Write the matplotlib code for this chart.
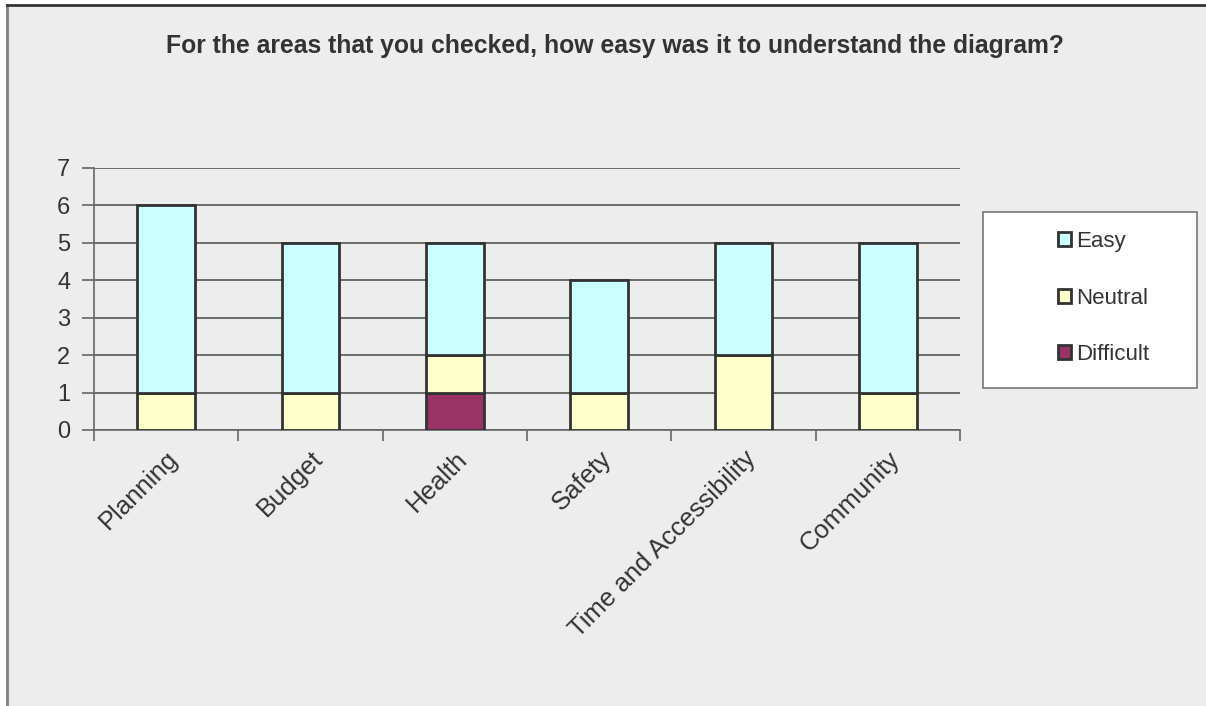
import matplotlib.pyplot as plt
import numpy as np
from matplotlib.patches import Rectangle
from matplotlib.lines import Line2D

# Daten
categories = ['Planning', 'Budget', 'Health', 'Safety', 'Time and Accessibility', 'Community']
difficult = [0, 0, 1, 0, 0, 0]
neutral = [1, 1, 1, 1, 2, 1]
easy = [5, 4, 3, 3, 3, 4]

plt.rcParams['font.family'] = ['Liberation Sans', 'DejaVu Sans']

fig = plt.figure(figsize=(12.06, 7.06), dpi=100)
fig.patch.set_facecolor('white')

# grauer Hintergrund mit Rahmen links/oben
bg_left = 7 / 1206
bg_top = 1 - 5 / 706
fig.add_artist(Rectangle((bg_left, 0), 1 - bg_left, bg_top, transform=fig.transFigure,
                         facecolor='#EDEDED', edgecolor='none', zorder=-10))
fig.add_artist(Line2D([bg_left, bg_left], [0, bg_top], transform=fig.transFigure,
                      color='#808080', linewidth=2))
fig.add_artist(Line2D([bg_left, 1], [bg_top, bg_top], transform=fig.transFigure,
                      color='#333333', linewidth=2))

ax = fig.add_axes([94 / 1206, 1 - 430 / 706, (960 - 94) / 1206, (430 - 168) / 706])
ax.set_facecolor('none')

x = np.arange(len(categories))
width = 0.4
edge = dict(edgecolor='#333333', linewidth=2, zorder=3)

ax.bar(x, difficult, width, color='#993366', label='Difficult', **edge)
ax.bar(x, neutral, width, bottom=difficult, color='#FFFFCC', label='Neutral', **edge)
bottom2 = np.array(difficult) + np.array(neutral)
ax.bar(x, easy, width, bottom=bottom2, color='#CCFFFF', label='Easy', **edge)

ax.set_xlim(-0.5, len(categories) - 0.5)
ax.set_ylim(0, 7)
ax.set_yticks(range(0, 8))
ax.yaxis.grid(True, color='#555555', linewidth=1.2, zorder=0)
ax.set_axisbelow(True)

for s in ['top', 'right']:
    ax.spines[s].set_visible(False)
ax.spines['left'].set_color('#666666')
ax.spines['bottom'].set_color('#666666')
ax.spines['left'].set_linewidth(1.2)
ax.spines['bottom'].set_linewidth(1.2)

# Ticks an Kategoriegrenzen
ax.set_xticks(np.arange(-0.5, len(categories), 1.0))
ax.set_xticklabels([])
ax.set_xticks(x, minor=True)
ax.set_xticklabels(categories, minor=True, rotation=45, ha='right', va='top',
                   rotation_mode='anchor', fontsize=18.5, color='#333333')
ax.tick_params(axis='x', which='major', length=8, width=1.2, color='#666666', direction='out')
ax.tick_params(axis='x', which='minor', length=0, pad=12)
ax.tick_params(axis='y', length=9, width=1.2, color='#666666', labelsize=17,
               labelcolor='#333333', pad=8)

fig.text(615 / 1206, 1 - 46 / 706,
         'For the areas that you checked, how easy was it to understand the diagram?',
         ha='center', va='center', fontsize=17.8, fontweight='bold', color='#333333')

# Legende
fig.add_artist(Rectangle((983 / 1206, 1 - 388 / 706), (1197 - 983) / 1206, (388 - 212) / 706,
                         transform=fig.transFigure, facecolor='white',
                         edgecolor='#777777', linewidth=1.2))
h, l = ax.get_legend_handles_labels()
fig.legend(h[::-1], l[::-1], loc='center left', bbox_to_anchor=(1038 / 1206, 1 - 298 / 706),
           frameon=False, fontsize=16, handlelength=0.6, handleheight=0.6,
           handletextpad=0.2, labelspacing=1.6, labelcolor='#333333')

plt.savefig('out.png', dpi=100)
